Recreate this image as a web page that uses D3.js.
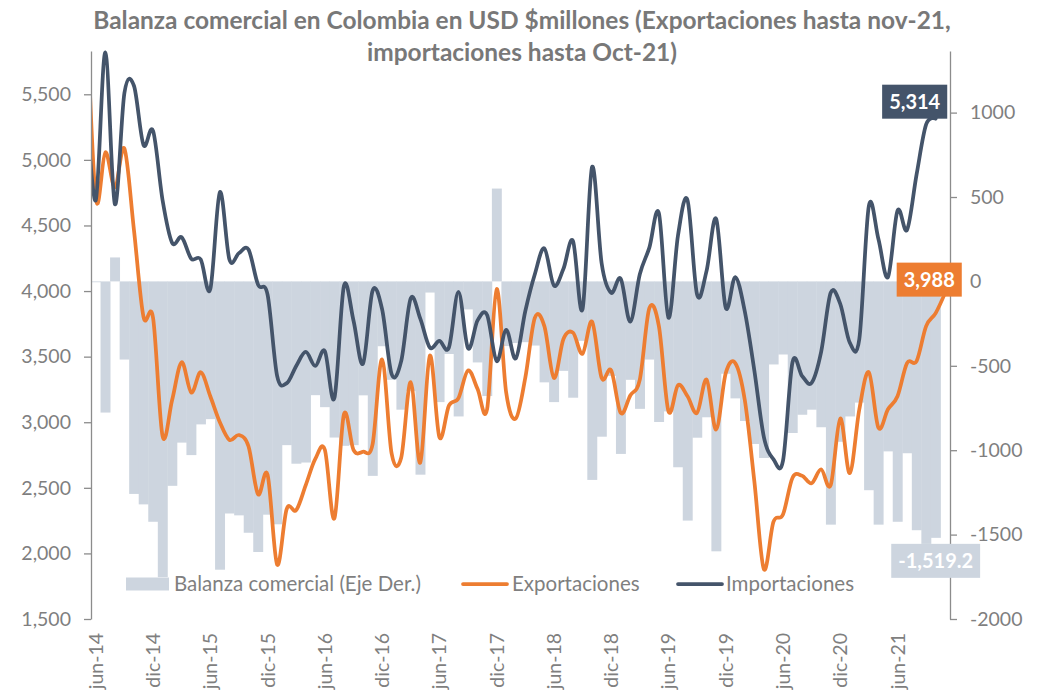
<!DOCTYPE html>
<html>
<head>
<meta charset="utf-8">
<script src="https://cdn.jsdelivr.net/npm/d3@7/dist/d3.min.js"></script>
<style>
  body { margin: 0; background: #fff; }
  text { font-family: Lato, "Open Sans", sans-serif; }
</style>
</head>
<body>
<div id="chart"></div>
<script>
// Meses: may-14 .. nov-21 (may-14 queda fuera del eje, solo se ve el tramo recortado)
const mesesAbr = ["ene", "feb", "mar", "abr", "may", "jun", "jul", "ago", "sep", "oct", "nov", "dic"];
const meses = [];
for (let a = 14; a <= 21; a++) {
    for (let m = 0; m < 12; m++) {
        if (a == 14 && m < 4) continue;
        if (a == 21 && m > 10) continue;
        meses.push(mesesAbr[m] + "-" + a);
    }
}

const etiquetasX = ["jun-14", "dic-14", "jun-15", "dic-15", "jun-16", "dic-16", "jun-17", "dic-17",
    "jun-18", "dic-18", "jun-19", "dic-19", "jun-20", "dic-20", "jun-21"];
const ticksIzq = [1500, 2000, 2500, 3000, 3500, 4000, 4500, 5000, 5500];
const ticksDer = [-2000, -1500, -1000, -500, 0, 500, 1000];

// Exportaciones, may-14 .. nov-21
const exportaciones = [6250,
    4710, 5058, 4791, 5086, 4466, 3804, 3796, 2894, 3169, 3457, 3226, 3381, 3198, 3000, 2865, 2902,
    2817, 2451, 2600, 1915, 2338, 2330, 2521, 2720, 2790, 2267, 3060, 2789, 2775, 2831, 3479, 2760,
    2730, 3306, 2691, 3508, 2887, 3127, 3184, 3395, 3254, 3099, 4015, 3226, 3028, 3338, 3796, 3733,
    3338, 3635, 3683, 3522, 3767, 3338, 3395, 3071, 3204, 3325, 3869, 3733, 3085, 3282, 3198, 3071,
    3325, 2944, 3373, 3451, 3169, 2550, 1879, 2240, 2296, 2577, 2592, 2535, 2640, 2521, 3028, 2612,
    3099, 3381, 2958, 3099, 3198, 3451, 3466, 3733, 3832, 3988];

// Importaciones, may-14 .. oct-21
const importaciones = [5450,
    4692, 5819, 4663, 5510, 5565, 5114, 5222, 4692, 4368, 4410, 4247, 4241, 4015, 4754, 4241, 4289,
    4317, 4049, 3973, 3353, 3297, 3429, 3536, 3429, 3542, 3184, 4038, 3776, 3446, 4001, 3861, 3367,
    3466, 3945, 3790, 3570, 3620, 3570, 3993, 3564, 3776, 3818, 3466, 3705, 3486, 3846, 4128, 4325,
    4043, 4170, 4382, 3861, 4945, 4212, 3987, 4094, 3767, 4128, 4331, 4593, 3796, 4424, 4692, 3973,
    4156, 4551, 3874, 4106, 3846, 3395, 2887, 2718, 2705, 3457, 3353, 3300, 3536, 3987, 3902, 3607,
    3635, 4650, 4396, 4106, 4613, 4466, 4889, 5270, 5314];

// Balanza comercial (eje derecho), jun-14 .. oct-21
const balanza = [
    -5, -777, 142, -463, -1259, -1321, -1424, -1752, -1211, -955, -1029, -847, -816, -1708, -1375, -1386,
    -1489, -1603, -1382, -1439, -970, -1080, -1073, -674, -745, -925, -974, -970, -675, -1152, -384, -583,
    -760, -650, -1145, -66, -715, -430, -800, -166, -480, -679, 550, -383, -365, -360, -380, -598,
    -715, -530, -689, -352, -1176, -920, -560, -1022, -583, -755, -463, -833, -770, -1101, -1417, -926,
    -805, -1599, -547, -693, -827, -963, -1046, -492, -433, -898, -790, -760, -864, -1441, -950, -800,
    -718, -1237, -1441, -1007, -1424, -1018, -1474, -1555, -1519.2];

const colorBarra = "#cdd5df", colorExp = "#ed7d31", colorImp = "#44546a", gris = "#7f7f7f";

// Lienzo
var margin = { top: 51, right: 94, bottom: 74, left: 91 },
    width = 1044 - margin.left - margin.right,
    height = 693 - margin.top - margin.bottom;
var root = d3.select("#chart")
    .append("svg")
    .attr("width", 1044)
    .attr("height", 693);
var svg = root.append("g")
    .attr("transform", "translate(" + margin.left + "," + margin.top + ")");

// Escalas (una banda por mes, may-14 a la izquierda del area)
var step = width / (meses.length - 1);
var x = d3.scaleBand()
    .domain(meses)
    .range([-step, width])
    .padding(0);
var yL = d3.scaleLinear().domain([1500, 5830]).range([height, 0]);
var yR = d3.scaleLinear().domain([-2000, 1365]).range([height, 0]);
var cx = function (m) { return x(m) + x.bandwidth() / 2; };

// Barras balanza
svg.append("g")
    .selectAll("rect")
    .data(balanza.map((v, i) => ({ mes: meses[i + 1], v: v })))
    .join("rect")
    .attr("x", d => x(d.mes))
    .attr("width", x.bandwidth() + 0.4)
    .attr("y", d => yR(Math.max(0, d.v)))
    .attr("height", d => Math.abs(yR(d.v) - yR(0)))
    .attr("fill", colorBarra);

// Lineas (recortadas al area del grafico)
svg.append("clipPath")
    .attr("id", "recorte")
    .append("rect")
    .attr("x", 0).attr("y", -margin.top)
    .attr("width", width).attr("height", height + 120);

var linea = d3.line()
    .x(d => cx(d.mes))
    .y(d => yL(d.v))
    .curve(d3.curveCatmullRom.alpha(0));

var series = [
    { valores: exportaciones, color: colorExp },
    { valores: importaciones, color: colorImp }
];
svg.append("g")
    .attr("clip-path", "url(#recorte)")
    .selectAll("path")
    .data(series)
    .join("path")
    .attr("d", s => linea(s.valores.map((v, i) => ({ mes: meses[i], v: v }))))
    .attr("fill", "none")
    .attr("stroke", s => s.color)
    .attr("stroke-width", 3.75)
    .attr("stroke-linejoin", "round")
    .attr("stroke-linecap", "round");

// Ejes
function estiloEje(g) {
    g.select(".domain").attr("stroke", "#8c8c8c").attr("stroke-width", 1.3);
    g.selectAll(".tick line").attr("stroke", "#8c8c8c").attr("stroke-width", 1.3);
    g.selectAll(".tick text").attr("fill", gris).style("font-size", "19.5px");
}

svg.append("g")
    .call(d3.axisLeft(yL).tickValues(ticksIzq).tickFormat(d3.format(","))
        .tickSize(7).tickSizeOuter(0).tickPadding(13))
    .call(estiloEje);

svg.append("g")
    .attr("transform", "translate(" + width + ",0)")
    .call(d3.axisRight(yR).tickValues(ticksDer).tickFormat(d => String(d))
        .tickSize(7).tickSizeOuter(0).tickPadding(13))
    .call(estiloEje);

var ejeX = svg.append("g")
    .attr("transform", "translate(0," + height + ")")
    .call(d3.axisBottom(x).tickValues(etiquetasX).tickSize(0));
ejeX.select(".domain").remove();
ejeX.selectAll(".tick text")
    .attr("transform", "rotate(-90)")
    .attr("x", -14)
    .attr("y", 0)
    .attr("dy", "0.36em")
    .style("text-anchor", "end")
    .style("font-size", "19.5px")
    .attr("fill", gris);

// Etiquetas de datos
function etiqueta(px, py, texto, fondo, dx, dy) {
    var g = svg.append("g");
    var t = g.append("text")
        .attr("text-anchor", "middle")
        .attr("dy", "0.36em")
        .attr("fill", "#fff")
        .style("font-weight", "bold")
        .style("font-size", "20px")
        .text(texto);
    var w = t.node().getComputedTextLength() + 14;
    g.insert("rect", "text")
        .attr("x", -w / 2).attr("y", -17)
        .attr("width", w).attr("height", 34)
        .attr("fill", fondo);
    g.attr("transform", "translate(" + (px + dx) + "," + (py + dy) + ")");
}
var nImp = importaciones.length - 1, nExp = exportaciones.length - 1, nBal = balanza.length - 1;
etiqueta(cx(meses[nImp]), yL(importaciones[nImp]), d3.format(",")(importaciones[nImp]), colorImp, -21, -17);
etiqueta(cx(meses[nExp]), yL(exportaciones[nExp]), d3.format(",")(exportaciones[nExp]), colorExp, -16, -13);
etiqueta(cx(meses[nBal + 1]), yR(balanza[nBal]), d3.format(",.1f")(balanza[nBal]).replace("\u2212", "-"), colorBarra, 0, 23);

// Titulo
var titulo = root.append("g").attr("fill", "#787878").style("font-weight", "bold");
var t1 = titulo.append("text").attr("x", 522).attr("y", 29).attr("text-anchor", "middle")
    .style("font-size", "20px")
    .text("Balanza comercial en Colombia en USD $millones (Exportaciones hasta nov-21,");
var fs = 20 * 858 / t1.node().getComputedTextLength();
t1.style("font-size", fs + "px");
titulo.append("text").attr("x", 522).attr("y", 61).attr("text-anchor", "middle")
    .style("font-size", fs + "px")
    .text("importaciones hasta Oct-21)");

// Leyenda
var leyenda = root.append("g").style("font-size", "20.5px").attr("fill", gris);
leyenda.append("rect").attr("x", 126).attr("y", 577.5).attr("width", 43).attr("height", 13).attr("fill", colorBarra);
leyenda.append("text").attr("x", 174).attr("y", 591).text("Balanza comercial (Eje Der.)");
leyenda.append("line").attr("x1", 463).attr("x2", 507).attr("y1", 584).attr("y2", 584)
    .attr("stroke", colorExp).attr("stroke-width", 3.75).attr("stroke-linecap", "round");
leyenda.append("text").attr("x", 512).attr("y", 591).text("Exportaciones");
leyenda.append("line").attr("x1", 678).attr("x2", 722).attr("y1", 584).attr("y2", 584)
    .attr("stroke", colorImp).attr("stroke-width", 3.75).attr("stroke-linecap", "round");
leyenda.append("text").attr("x", 726).attr("y", 591).text("Importaciones");
</script>
</body>
</html>
